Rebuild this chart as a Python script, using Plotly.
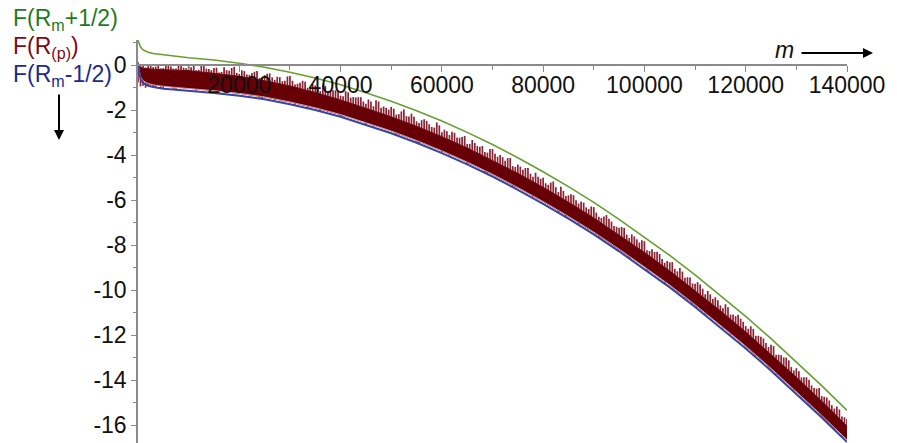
import plotly.graph_objects as go

# ---- data ----
curve_m = [0, 250, 500, 1000, 2000, 3000, 5000, 7500, 10000, 15000, 20000, 25000, 30000,
           35000, 40000, 45000, 50000, 55000, 60000, 65000, 70000, 75000, 80000, 85000,
           90000, 95000, 100000, 105000, 110000, 115000, 120000, 125000, 130000, 135000, 140000]

green_vals = [1.10, 0.92, 0.80, 0.67, 0.57, 0.51, 0.45, 0.38, 0.32, 0.22, 0.08, -0.10, -0.32,
              -0.58, -0.88, -1.23, -1.61, -2.03, -2.49, -2.99, -3.53, -4.12, -4.74, -5.40,
              -6.10, -6.85, -7.63, -8.45, -9.32, -10.22, -11.16, -12.15, -13.17, -14.23, -15.33]

blue_vals = [-0.05, -0.40, -0.62, -0.80, -0.92, -0.98, -1.05, -1.10, -1.14, -1.24, -1.36, -1.52, -1.74,
             -2.00, -2.30, -2.65, -3.03, -3.45, -3.91, -4.41, -4.95, -5.54, -6.16, -6.82,
             -7.52, -8.27, -9.05, -9.87, -10.74, -11.64, -12.58, -13.57, -14.59, -15.65, -16.74]

# dense body of F(R_(p)): lower edge and upper edge of the solid part
red_low = [0.05, -0.30, -0.52, -0.70, -0.82, -0.88, -0.95, -1.00, -1.04, -1.14, -1.26, -1.42, -1.64,
           -1.90, -2.20, -2.55, -2.93, -3.35, -3.81, -4.31, -4.85, -5.44, -6.06, -6.72,
           -7.42, -8.17, -8.95, -9.77, -10.64, -11.54, -12.48, -13.47, -14.49, -15.55, -16.64]
red_body_top = [-0.02, -0.08, -0.11, -0.14, -0.17, -0.19, -0.21, -0.23, -0.25, -0.37, -0.50, -0.70, -0.93,
                -1.22, -1.55, -1.92, -2.30, -2.72, -3.18, -3.68, -4.23, -4.81, -5.43, -6.09,
                -6.79, -7.54, -8.32, -9.14, -10.01, -10.91, -11.85, -12.84, -13.86, -14.92, -16.03]

# spike tips of F(R_(p)) at whole thousands of m
red_m = list(range(0, 140001, 1000))
red_high = [
    0.12, -0.02, 0.01, -0.09, 0.00, -0.13, 0.00, -0.16, 0.03, -0.12,
    -0.05, 0.01, -0.21, 0.01, -0.18, -0.13, -0.33, -0.10, -0.25, -0.08,
    -0.39, -0.27, -0.44, -0.30, -0.57, -0.45, -0.37, -0.66, -0.54, -0.70,
    -0.49, -0.86, -0.79, -0.74, -0.98, -0.91, -1.16, -0.94, -1.15, -1.12,
    -1.36, -1.16, -1.45, -1.44, -1.43, -1.72, -1.62, -1.56, -1.90, -1.90,
    -1.86, -2.20, -2.06, -2.27, -2.16, -2.50, -2.45, -2.48, -2.75, -2.55,
    -2.98, -2.94, -2.96, -3.22, -3.20, -3.51, -3.33, -3.60, -3.60, -3.89,
    -3.73, -4.07, -4.09, -4.13, -4.49, -4.42, -4.65, -4.57, -4.96, -4.96,
    -5.01, -5.32, -5.17, -5.64, -5.59, -5.79, -5.78, -6.15, -6.11, -6.39,
    -6.31, -6.74, -6.73, -6.82, -7.15, -7.22, -7.23, -7.68, -7.61, -7.88,
    -7.82, -8.26, -8.30, -8.39, -8.78, -8.76, -9.05, -9.01, -9.44, -9.43,
    -9.71, -9.74, -10.18, -10.18, -10.31, -10.67, -10.62, -11.08, -11.15, -11.26,
    -11.59, -11.60, -12.02, -12.06, -12.34, -12.42, -12.86, -12.88, -12.99, -13.41,
    -13.46, -13.87, -13.86, -14.22, -14.37, -14.70, -14.76, -15.10, -15.16, -15.60,
    -15.71]

# spike tips of F(R_(p)) half-way between (m = 500, 1500, ..., 139500)
red_m2 = list(range(500, 140000, 1000))
red_high2 = [
    -0.05, -0.11, 0.00, -0.07, -0.15, -0.01, -0.07, -0.15, -0.03, -0.14,
    -0.10, -0.23, -0.01, -0.16, -0.23, -0.12, -0.31, -0.23, -0.13, -0.35,
    -0.23, -0.42, -0.36, -0.27, -0.57, -0.39, -0.55, -0.52, -0.72, -0.51,
    -0.70, -0.83, -0.70, -1.01, -0.85, -0.98, -0.86, -1.18, -1.12, -1.12,
    -1.39, -1.21, -1.42, -1.43, -1.62, -1.53, -1.83, -1.62, -1.84, -1.98,
    -1.94, -2.18, -1.98, -2.29, -2.30, -2.58, -2.41, -2.63, -2.78, -2.68,
    -2.87, -3.11, -3.01, -3.23, -3.15, -3.50, -3.46, -3.63, -3.86, -3.73,
    -3.94, -4.00, -4.25, -4.13, -4.53, -4.51, -4.57, -4.83, -4.78, -5.05,
    -5.25, -5.22, -5.42, -5.41, -5.82, -5.74, -6.00, -6.06, -6.32, -6.28,
    -6.55, -6.79, -6.66, -6.95, -7.18, -7.19, -7.53, -7.52, -7.74, -7.78,
    -8.22, -8.18, -8.29, -8.61, -8.70, -8.75, -9.16, -9.17, -9.42, -9.70,
    -9.64, -9.93, -10.03, -10.38, -10.44, -10.80, -10.75, -11.08, -11.09, -11.40,
    -11.71, -11.72, -12.02, -12.14, -12.52, -12.48, -12.86, -12.98, -13.11, -13.56,
    -13.59, -13.86, -13.97, -14.34, -14.34, -14.73, -14.89, -15.25, -15.29, -15.64]

x_tickvals = [20000, 40000, 60000, 80000, 100000, 120000, 140000]
x_ticktext = ["20000", "40000", "60000", "80000", "100000", "120000", "140000"]
x_minor = [10000, 30000, 50000, 70000, 90000, 110000, 130000]
y_tickvals = [0, -2, -4, -6, -8, -10, -12, -14, -16]
y_ticktext = ["0", "-2", "-4", "-6", "-8", "-10", "-12", "-14", "-16"]
y_minor = [1, -1, -3, -5, -7, -9, -11, -13, -15]

legend_lines = ["F(R<sub>m</sub>+1/2)", "F(R<sub>(p)</sub>)", "F(R<sub>m</sub>-1/2)"]
legend_colors = ["#1f7a1f", "#7a0a14", "#1c2a8c"]

# ---- figure (page body margin removed by post_script, so figure fills window) ----
W, H = 897, 443
ML, MR, MT, MB = 138, 50, 40, 0
YMIN, YMAX = -16.78, 1.11
FONT = "Liberation Sans, Arial, sans-serif"
FS = 23
AXC = "#8a8a8a"
SPIKE_DEPTH = 0.9

fig = go.Figure()

# spikes (drawn under the dense body)
sx, sy = [], []
for ms, hs in ((red_m, red_high), (red_m2, red_high2)):
    for m, h in zip(ms, hs):
        sx += [m, m, None]
        sy += [h - SPIKE_DEPTH, h, None]
fig.add_trace(go.Scatter(x=sx, y=sy, mode="lines",
                         line=dict(color="#8a2232", width=1.7),
                         hoverinfo="skip", showlegend=False))

# dense body
fig.add_trace(go.Scatter(
    x=curve_m + curve_m[::-1], y=red_body_top + red_low[::-1],
    mode="lines", fill="toself", fillcolor="#670006",
    line=dict(color="#6e0a14", width=1), hoverinfo="skip", showlegend=False))
# pale lower fringe of the band
fig.add_trace(go.Scatter(x=curve_m, y=red_low, mode="lines",
                         line=dict(color="#d9a3ab", width=1),
                         hoverinfo="skip", showlegend=False))

fig.add_trace(go.Scatter(x=curve_m, y=blue_vals, mode="lines",
                         line=dict(color="#3444a8", width=2), showlegend=False))
fig.add_trace(go.Scatter(x=curve_m, y=green_vals, mode="lines",
                         line=dict(color="#66a030", width=1.6), showlegend=False))

xpos = (0 - YMIN) / (YMAX - YMIN)

fig.update_layout(
    width=W, height=H,
    margin=dict(l=ML, r=MR, t=MT, b=MB, pad=0),
    paper_bgcolor="white", plot_bgcolor="white",
    font=dict(family=FONT, size=FS, color="#111111"),
    xaxis=dict(range=[0, 140000], anchor="free", position=xpos,
               showline=True, linecolor=AXC, linewidth=1.5,
               tickmode="array", tickvals=x_tickvals, ticktext=x_ticktext,
               ticks="outside", ticklen=6, tickcolor=AXC, tickwidth=1.2,
               ticklabelstandoff=-6,
               minor=dict(tickmode="array", tickvals=x_minor, ticks="outside",
                          ticklen=4, tickcolor=AXC),
               showgrid=False, zeroline=False,
               tickfont=dict(family=FONT, size=FS, color="#111111")),
    yaxis=dict(range=[YMIN, YMAX],
               showline=True, linecolor=AXC, linewidth=1.5,
               tickmode="array", tickvals=y_tickvals, ticktext=y_ticktext,
               ticks="outside", ticklen=5, tickcolor=AXC, tickwidth=1.2,
               minor=dict(tickmode="array", tickvals=y_minor, ticks="outside",
                          ticklen=3, tickcolor=AXC),
               showgrid=False, zeroline=False,
               tickfont=dict(family=FONT, size=FS, color="#111111")),
)

pw = W - ML - MR
ph = H - MT - MB


def px2paper(px, py):
    return (px - ML) / pw, (H - MB - py) / ph


for i, (txt, col) in enumerate(zip(legend_lines, legend_colors)):
    xp, yp = px2paper(11, 20 + 27.5 * i)
    fig.add_annotation(x=xp, y=yp, xref="paper", yref="paper", text=txt,
                       showarrow=False, xanchor="left", yanchor="middle",
                       font=dict(family=FONT, size=FS, color=col))

# down arrow
hx, hy = px2paper(59, 140)
fig.add_annotation(x=hx, y=hy, xref="paper", yref="paper", text="", showarrow=True,
                   ax=0, ay=-47, arrowhead=2, arrowsize=1, arrowwidth=2, arrowcolor="black")
# m arrow
hx, hy = px2paper(873, 53)
fig.add_annotation(x=hx, y=hy, xref="paper", yref="paper", text="", showarrow=True,
                   ax=-73, ay=0, arrowhead=2, arrowsize=1, arrowwidth=2, arrowcolor="black")
mx, my = px2paper(784, 50)
fig.add_annotation(x=mx, y=my, xref="paper", yref="paper", text="<i>m</i>",
                   showarrow=False, xanchor="center", yanchor="middle",
                   font=dict(family=FONT, size=FS, color="#111111"))

fig.write_html("out.html",
               config={"displayModeBar": False},
               post_script="document.body.style.margin='0';document.body.style.overflow='hidden';")
